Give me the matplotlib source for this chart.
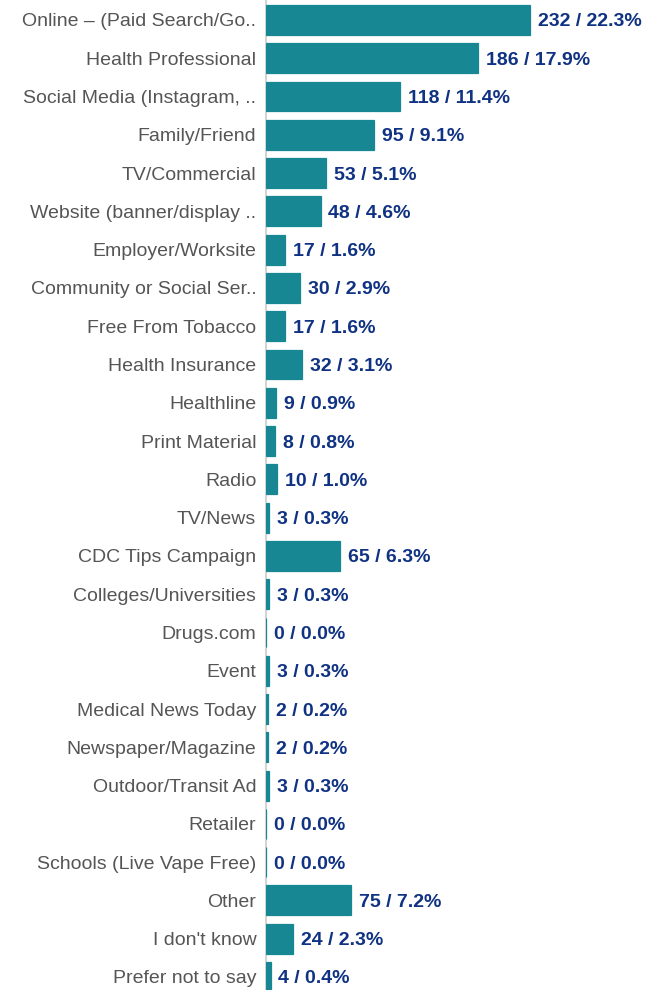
import matplotlib
matplotlib.use("Agg")
import matplotlib.pyplot as plt

categories = [
    "Online – (Paid Search/Go..", "Health Professional", "Social Media (Instagram, ..",
    "Family/Friend", "TV/Commercial", "Website (banner/display ..", "Employer/Worksite",
    "Community or Social Ser..", "Free From Tobacco", "Health Insurance", "Healthline",
    "Print Material", "Radio", "TV/News", "CDC Tips Campaign", "Colleges/Universities",
    "Drugs.com", "Event", "Medical News Today", "Newspaper/Magazine", "Outdoor/Transit Ad",
    "Retailer", "Schools (Live Vape Free)", "Other", "I don't know", "Prefer not to say",
]
counts = [232, 186, 118, 95, 53, 48, 17, 30, 17, 32, 9, 8, 10, 3, 65, 3, 0, 3, 2, 2, 3, 0, 0, 75, 24, 4]
percents = [22.3, 17.9, 11.4, 9.1, 5.1, 4.6, 1.6, 2.9, 1.6, 3.1, 0.9, 0.8, 1.0, 0.3, 6.3, 0.3,
            0.0, 0.3, 0.2, 0.2, 0.3, 0.0, 0.0, 7.2, 2.3, 0.4]

plt.rcParams['font.family'] = ['Liberation Sans', 'DejaVu Sans']

fig = plt.figure(figsize=(6.5, 9.9), dpi=100)
ax = fig.add_axes([266 / 650, 0, 1 - 266 / 650, 1])

ypos = list(range(len(categories)))
ax.barh(ypos, counts, height=0.78, color="#178893", edgecolor="#178893",
        linewidth=0.9, zorder=3)

for y, c, p in zip(ypos, counts, percents):
    ax.annotate(f"{c} / {p:.1f}%", xy=(c, y), xytext=(5.5, 0), textcoords="offset points",
                va="center_baseline", ha="left", fontsize=14, fontweight="bold",
                color="#0f3283")

ax.set_xlim(0, 337)
ax.set_ylim(25.34, -0.522)
ax.set_yticks(ypos)
ax.set_yticklabels(categories, fontsize=14, color="#555555", va="center_baseline")
ax.tick_params(axis="y", length=0, pad=7)
ax.set_xticks([])
for s in ["top", "right", "bottom"]:
    ax.spines[s].set_visible(False)
ax.spines["left"].set_color("#d4d4d4")
ax.spines["left"].set_linewidth(1.5)

fig.savefig("out.png", dpi=100)
